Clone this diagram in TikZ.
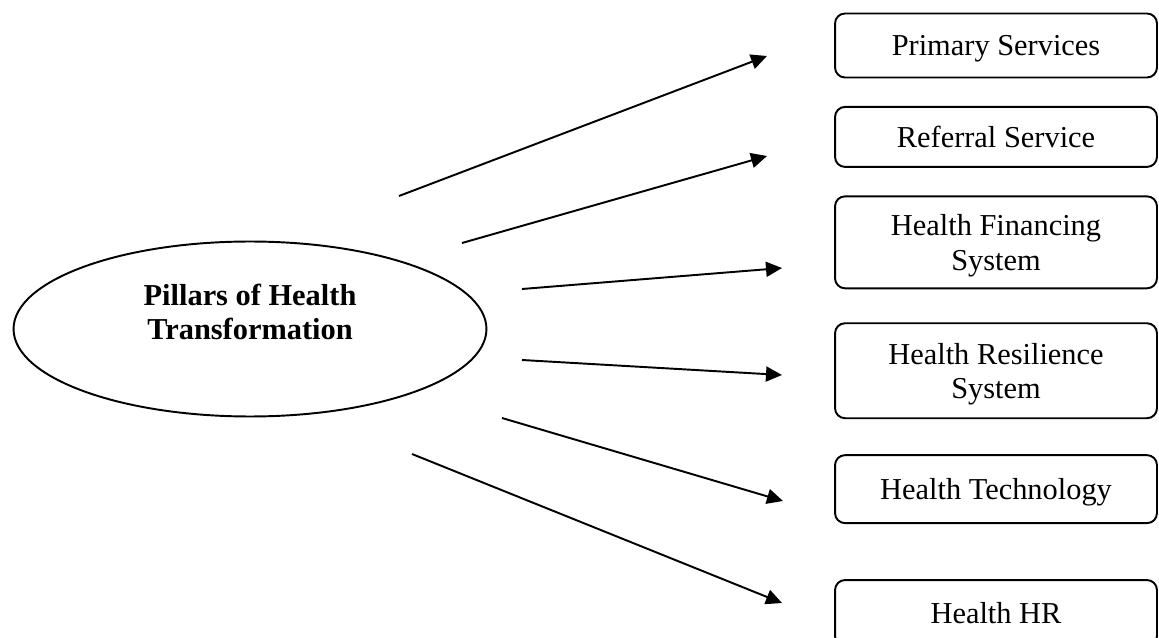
\documentclass[tikz,border=0pt]{standalone}
\usepackage{fontspec}
\setmainfont{Liberation Serif}
\usetikzlibrary{positioning,shapes.geometric,arrows.meta}

\begin{document}
\begin{tikzpicture}[x=0.02cm, y=-0.02cm, line width=1.1pt,
  every node/.style={font=\fontsize{17.3pt}{19.5pt}\selectfont},
  pillar/.style={draw, ellipse, minimum width=9.46cm, minimum height=3.5cm, inner sep=0pt},
  box/.style={draw, rectangle, rounded corners=0.2cm, minimum width=6.44cm, align=center, inner sep=0pt, text depth=0pt},
  arrow/.style={-{Triangle[length=0.32cm, width=0.3cm]}}]
  \useasboundingbox (0,0) rectangle (1159,638);
  \node[pillar] (pillars) at (250,329) {};
  \node[font=\fontsize{17.3pt}{19.5pt}\selectfont\bfseries, align=center] (pillarstext) at ([yshift=0.34cm]pillars.center) {Pillars of Health\\Transformation};
  \node[box, minimum height=1.28cm] (primary) at (996,45.5) {Primary Services};
  \node[box, minimum height=1.20cm, below=0.55cm of primary] (referral) {Referral Service};
  \node[box, minimum height=1.84cm, below=0.55cm of referral] (financing) {Health Financing\\System};
  \node[box, minimum height=1.90cm, below=0.66cm of financing] (resilience) {Health Resilience\\System};
  \node[box, minimum height=1.36cm, below=0.70cm of resilience] (technology) {Health Technology};
  \node[box, minimum height=1.32cm, below=1.10cm of technology] (hr) {Health HR};
  \coordinate (s1) at (399,196);
  \coordinate (e1) at (767,56);
  \coordinate (s2) at (462,243);
  \coordinate (e2) at (767,156);
  \coordinate (s3) at (522,289);
  \coordinate (e3) at (782,268);
  \coordinate (s4) at (522,360);
  \coordinate (e4) at (782,375);
  \coordinate (s5) at (502,418);
  \coordinate (e5) at (783,501);
  \coordinate (s6) at (412,454);
  \coordinate (e6) at (782,603);
  \draw[arrow] (s1) -- (e1);
  \draw[arrow] (s2) -- (e2);
  \draw[arrow] (s3) -- (e3);
  \draw[arrow] (s4) -- (e4);
  \draw[arrow] (s5) -- (e5);
  \draw[arrow] (s6) -- (e6);
\end{tikzpicture}
\end{document}
